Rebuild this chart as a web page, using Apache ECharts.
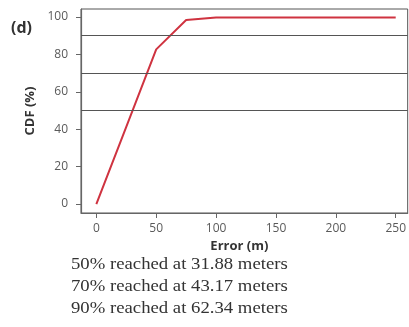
<!DOCTYPE html>
<html>
<head>
<meta charset="utf-8">
<script src="https://cdn.jsdelivr.net/npm/echarts@6/dist/echarts.min.js"></script>
<style>html,body{margin:0;padding:0;background:#fff;}#c{width:409px;height:327px;}</style>
</head>
<body>
<div id="c"></div>
<script>
var errorM = [0, 25, 50, 75, 100, 150, 200, 250];
var cdfPct = [0, 41.3, 82.7, 98.4, 99.7, 99.8, 99.8, 99.7];
var xTicks = [0, 50, 100, 150, 200, 250];
var yTicks = [0, 20, 40, 60, 80, 100];
var thresholds = [50, 70, 90];
var notes = [
  '50% reached at 31.88 meters',
  '70% reached at 43.17 meters',
  '90% reached at 62.34 meters'
];
var panelLabel = '(d)';

var chart = echarts.init(document.getElementById('c'), null, {renderer: 'canvas'});
var noteGraphics = notes.map(function (t, i) {
  return {
    type: 'text', left: 71, top: 257 + i * 22, scaleX: 1.17,
    style: {text: t, font: '16px "Liberation Serif", serif', fill: '#333'}
  };
});
noteGraphics.push({
  type: 'text', left: 11, top: 20,
  style: {text: panelLabel, font: 'bold 16px "Open Sans", sans-serif', fill: '#333'}
});
chart.setOption({
  animation: false,
  grid: {left: 81, top: 9, bottom: 114, right: -3, show: true, borderColor: '#555', borderWidth: 1, backgroundColor: 'transparent'},
  xAxis: {
    type: 'value', min: -12.8, max: 260,
    name: 'Error (m)', nameLocation: 'middle', nameGap: 20,
    nameTextStyle: {fontFamily: 'Open Sans', fontWeight: 'bold', fontSize: 13, color: '#333', padding: [0, 10, 0, 0]},
    axisLine: {show: true, onZero: false, lineStyle: {color: '#666', width: 1.2}},
    axisTick: {show: true, length: 5, customValues: xTicks, lineStyle: {color: '#666'}},
    axisLabel: {customValues: xTicks, fontFamily: 'Open Sans', fontSize: 12, color: '#5a5a5a', margin: 10},
    splitLine: {show: false}
  },
  yAxis: {
    type: 'value', min: -4.8, max: 104.3,
    name: 'CDF (%)', nameLocation: 'middle', nameGap: 40, nameRotate: 90,
    nameTextStyle: {fontFamily: 'Open Sans', fontWeight: 'bold', fontSize: 13, color: '#333', padding: [0, 0, 0, 0]},
    axisLine: {show: true, onZero: false, lineStyle: {color: '#666', width: 1.2}},
    axisTick: {show: true, length: 5, customValues: yTicks, lineStyle: {color: '#666'}},
    axisLabel: {customValues: yTicks, fontFamily: 'Open Sans', fontSize: 12, color: '#5a5a5a', margin: 13},
    splitLine: {show: false}
  },
  series: [{
    type: 'line',
    data: errorM.map(function (x, i) { return [x, cdfPct[i]]; }),
    showSymbol: false,
    lineStyle: {color: '#cf3340', width: 2},
    z: 3,
    markLine: {
      silent: true, symbol: 'none', label: {show: false},
      lineStyle: {color: '#555', width: 1, type: 'solid'},
      data: thresholds.map(function (v) { return {yAxis: v}; })
    }
  }],
  graphic: noteGraphics
});
</script>
</body>
</html>
